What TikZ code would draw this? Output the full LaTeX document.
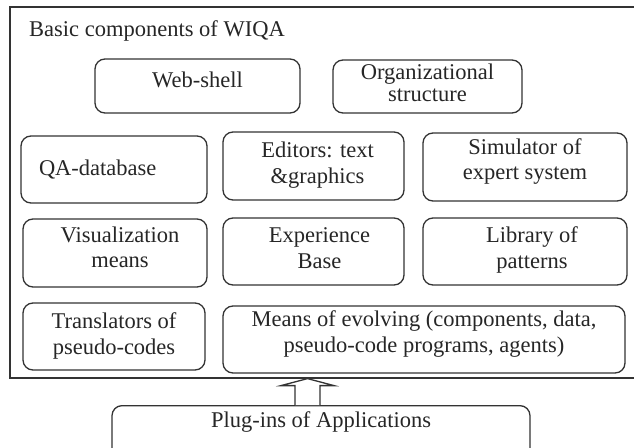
\documentclass[tikz,border=0pt]{standalone}
\usepackage{fontspec}
\setmainfont{Liberation Serif}
\usetikzlibrary{calc}
\definecolor{ink}{HTML}{333333}
\definecolor{txt}{HTML}{262626}
\begin{document}
\begin{tikzpicture}[x=1pt,y=-1pt,
  lbl/.style={text=txt, font=\fontsize{22.5}{25}\selectfont},
  box/.style={lbl, draw=ink, line width=1.3pt, rounded corners=10pt, align=center,
    inner xsep=2pt, inner ysep=0pt, text height=15pt},
  framebox/.style={draw=ink, line width=1.6pt, inner sep=0pt},
  hollowarrow/.style={draw=ink, line width=1.3pt, fill=white, line join=miter}
  ]
\useasboundingbox (0,0) rectangle (634,447);
\fill[white] (0,0) rectangle (634,447);
\clip (0,0) rectangle (634,447);

% outer frame
\node[framebox, anchor=north west, minimum width=641pt, minimum height=371pt] (frame) at (9,6) {};
\node[lbl, anchor=base west, inner sep=0pt] (title) at (29,36) {Basic components of WIQA};

% row 1
\node[box, minimum width=205pt, minimum height=54pt, text depth=13pt] (web) at (197.5,86) {Web-shell};
\node[box, minimum width=189pt, minimum height=53pt, text height=37pt, text depth=7pt] (org) at (427.5,86.5) {Organizational\\[-3pt]structure};

% row 2
\node[box, minimum width=186pt, minimum height=67pt, text depth=4pt, align=left, text width=150pt, inner xsep=18pt] (qa) at (114,169.5) {QA-database};
\node[box, minimum width=181pt, minimum height=68pt, text height=41pt, text depth=6.4pt] (edit) at (313.5,166) {\hspace*{8pt}Editors: text\\[1pt]\hspace*{8pt}\&graphics};
\node[box, minimum width=204pt, minimum height=68pt, text height=40.7pt, text depth=15.3pt] (sim) at (525,167) {Simulator of\\[0.7pt]expert system};

% row 3
\node[box, minimum width=184pt, minimum height=68pt, text height=40pt, text depth=10.6pt] (vis) at (115,253) {\hspace*{10pt}Visualization\\\hspace*{10pt}means};
\node[box, minimum width=181pt, minimum height=67pt, text height=40.6pt, text depth=7pt] (exp) at (313.5,251.5) {\hspace*{12pt}Experience\\[0.6pt]\hspace*{12pt}Base};
\node[box, minimum width=204pt, minimum height=67pt, text height=40.6pt, text depth=7pt] (lib) at (525,251.5) {\hspace*{14pt}Library of\\[0.6pt]\hspace*{14pt}patterns};

% row 4
\node[box, minimum width=182pt, minimum height=67pt, text height=41.5pt, text depth=4.9pt] (trans) at (114,336.5) {Translators of\\[1.5pt]pseudo-codes};
\node[box, minimum width=402pt, minimum height=67pt, text height=41.5pt, text depth=15.5pt] (means) at (424,339.5) {Means of evolving (components, data,\\[1.5pt]pseudo-code programs, agents)};

% plug-ins
\node[box, anchor=north, minimum width=418pt, inner ysep=7pt, text depth=36pt] (plug) at (321,405) {Plug-ins of Applications};

% hollow arrow
\coordinate (ax) at (307.5,0);
\coordinate (atip) at (frame.south -| ax);
\coordinate (abase) at (plug.north -| ax);
\draw[hollowarrow] ($(abase)+(-12.5,0)$) -- ($(atip)+(-12.5,7)$) -- ($(atip)+(-26.5,7)$) -- (atip)
  -- ($(atip)+(26.5,7)$) -- ($(atip)+(12.5,7)$) -- ($(abase)+(12.5,0)$);
\end{tikzpicture}
\end{document}
